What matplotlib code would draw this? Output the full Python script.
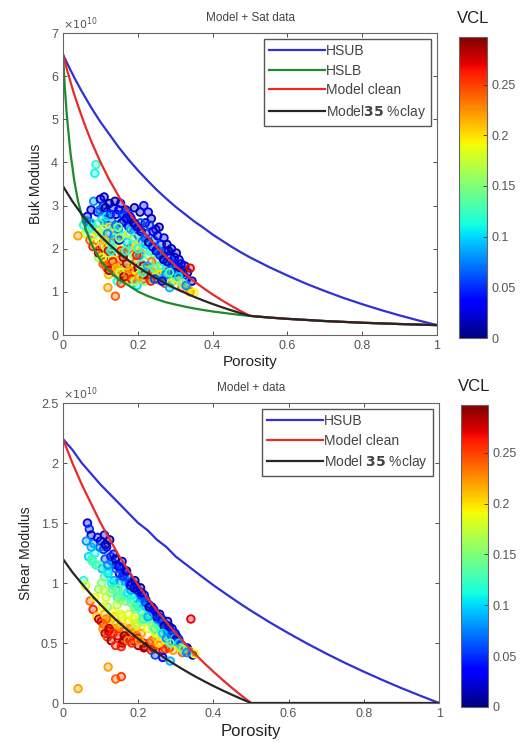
import matplotlib
matplotlib.use('Agg')
import matplotlib.pyplot as plt
from matplotlib import cm, colors as mcolors
from matplotlib.ticker import MultipleLocator

plt.rcParams['font.family'] = ['Liberation Sans', 'DejaVu Sans']

# model curves (values in units of 1e10 Pa)
phi_curve = [0, 0.005, 0.01, 0.02, 0.025, 0.03, 0.04, 0.05, 0.06, 0.075, 0.08, 0.1, 0.12, 0.125,
             0.15, 0.175, 0.2, 0.225, 0.25, 0.275, 0.3, 0.325, 0.35, 0.375, 0.4, 0.425,
             0.45, 0.475, 0.5, 0.55, 0.6, 0.65, 0.7, 0.75, 0.8, 0.85, 0.9, 0.95, 1.0]

k_hsub = [6.50, 6.41, 6.32, 6.14, 6.06, 5.97, 5.81, 5.65, 5.50, 5.28, 5.21, 4.94, 4.70, 4.64,
          4.34, 4.07, 3.82, 3.59, 3.37, 3.17, 2.98, 2.81, 2.64, 2.49, 2.33, 2.19,
          2.05, 1.92, 1.80, 1.58, 1.38, 1.19, 1.02, 0.86, 0.715, 0.58, 0.455, 0.339, 0.23]
k_hslb = [6.50, 5.72, 5.11, 4.21, 3.90, 3.58, 3.11, 2.78, 2.47, 2.13, 2.04, 1.74, 1.52, 1.48,
          1.28, 1.15, 1.01, 0.91, 0.83, 0.76, 0.708, 0.66, 0.617, 0.58, 0.546, 0.518,
          0.49, 0.465, 0.444, 0.406, 0.375, 0.35, 0.324, 0.305, 0.285, 0.27, 0.255, 0.242, 0.23]
k_clean = [6.50, 6.33, 6.17, 5.87, 5.72, 5.58, 5.32, 5.07, 4.83, 4.50, 4.40, 4.01, 3.66, 3.58,
           3.20, 2.86, 2.56, 2.29, 2.04, 1.82, 1.61, 1.42, 1.25, 1.09, 0.941, 0.804,
           0.676, 0.556, 0.444, 0.406, 0.375, 0.35, 0.324, 0.305, 0.285, 0.27, 0.255, 0.242, 0.23]
k_clay = [3.45, 3.38, 3.31, 3.17, 3.10, 3.04, 2.92, 2.80, 2.69, 2.54, 2.49, 2.30, 2.13, 2.09,
          1.90, 1.73, 1.58, 1.44, 1.31, 1.19, 1.08, 0.982, 0.888, 0.801, 0.720, 0.644,
          0.573, 0.507, 0.444, 0.406, 0.375, 0.35, 0.324, 0.305, 0.285, 0.27, 0.255, 0.242, 0.23]

phi_shear = [0, 0.025, 0.05, 0.075, 0.1, 0.125, 0.15, 0.175, 0.2, 0.225, 0.25, 0.275, 0.3,
             0.325, 0.35, 0.375, 0.4, 0.425, 0.45, 0.475, 0.5, 0.55, 0.6, 0.65, 0.7,
             0.75, 0.8, 0.85, 0.9, 0.95, 1.0]
mu_hsub = [2.20, 2.11, 2.00, 1.91, 1.82, 1.74, 1.66, 1.58, 1.50, 1.44, 1.36, 1.30, 1.22,
           1.16, 1.10, 1.04, 0.982, 0.927, 0.873, 0.82, 0.769, 0.672, 0.581, 0.494, 0.412,
           0.334, 0.261, 0.191, 0.124, 0.061, 0.0]
mu_clean = [2.20, 2.00, 1.82, 1.66, 1.50, 1.36, 1.22, 1.10, 0.982, 0.873, 0.769, 0.672, 0.581,
            0.494, 0.412, 0.334, 0.261, 0.191, 0.124, 0.061, 0.0, 0, 0, 0, 0,
            0, 0, 0, 0, 0, 0]
mu_clay = [1.20, 1.09, 0.994, 0.903, 0.819, 0.740, 0.667, 0.599, 0.535, 0.475, 0.419, 0.366, 0.316,
           0.269, 0.224, 0.182, 0.142, 0.104, 0.068, 0.033, 0.0, 0, 0, 0, 0,
           0, 0, 0, 0, 0, 0]

# well-log samples: porosity, clay volume, bulk and shear modulus (1e10 Pa)
por = [0.055, 0.060, 0.065, 0.068, 0.070, 0.072, 0.075, 0.078, 0.080, 0.082,
       0.085, 0.088, 0.090, 0.092, 0.095, 0.100, 0.102, 0.104, 0.106, 0.108,
       0.110, 0.112, 0.114, 0.116, 0.118, 0.120, 0.122, 0.124, 0.126, 0.128,
       0.130, 0.132, 0.134, 0.136, 0.138, 0.140, 0.112, 0.118, 0.125, 0.135,
       0.142, 0.144, 0.146, 0.148, 0.150, 0.152, 0.154, 0.156, 0.158, 0.160,
       0.162, 0.164, 0.166, 0.168, 0.170, 0.172, 0.174, 0.176, 0.178, 0.180,
       0.145, 0.155, 0.165, 0.175, 0.150, 0.182, 0.184, 0.186, 0.188, 0.190,
       0.192, 0.194, 0.196, 0.198, 0.200, 0.202, 0.204, 0.206, 0.208, 0.210,
       0.212, 0.214, 0.216, 0.218, 0.220, 0.185, 0.195, 0.205, 0.215, 0.190,
       0.222, 0.225, 0.228, 0.230, 0.233, 0.236, 0.238, 0.240, 0.243, 0.246,
       0.248, 0.250, 0.253, 0.256, 0.258, 0.260, 0.263, 0.266, 0.268, 0.270,
       0.273, 0.276, 0.278, 0.280, 0.283, 0.286, 0.288, 0.290, 0.293, 0.296,
       0.298, 0.300, 0.303, 0.306, 0.308, 0.310, 0.313, 0.316, 0.318, 0.320,
       0.323, 0.326, 0.330, 0.333, 0.336, 0.340, 0.345, 0.350, 0.040, 0.140,
       0.155, 0.340, 0.120, 0.110, 0.098, 0.103, 0.107, 0.113, 0.117, 0.121,
       0.127, 0.131, 0.137, 0.141, 0.147, 0.151, 0.157, 0.161, 0.167, 0.171,
       0.177, 0.181, 0.187, 0.191, 0.197, 0.201, 0.207, 0.211, 0.217, 0.221,
       0.227, 0.231, 0.237, 0.241, 0.247, 0.251, 0.257, 0.262, 0.267, 0.272,
       0.277, 0.282, 0.287, 0.292, 0.297, 0.302, 0.312, 0.085, 0.095, 0.075,
       0.105, 0.115, 0.123, 0.133, 0.143, 0.153, 0.163, 0.173, 0.183, 0.193,
       0.203, 0.213, 0.139, 0.149, 0.159, 0.169, 0.179, 0.189, 0.199, 0.209,
       0.219, 0.229, 0.239, 0.249, 0.259, 0.269, 0.279, 0.289, 0.299, 0.309,
       0.319, 0.329, 0.096, 0.109, 0.119, 0.129, 0.111, 0.147, 0.226, 0.244,
       0.255, 0.265, 0.275, 0.285, 0.235, 0.245, 0.265, 0.285, 0.062, 0.077]
vcl = [0.12, 0.18, 0.03, 0.10, 0.05, 0.24, 0.02, 0.14, 0.26, 0.08,
       0.11, 0.12, 0.20, 0.04, 0.16, 0.02, 0.27, 0.09, 0.22, 0.05,
       0.13, 0.28, 0.18, 0.03, 0.25, 0.10, 0.21, 0.01, 0.15, 0.29,
       0.07, 0.19, 0.04, 0.23, 0.12, 0.26, 0.06, 0.16, 0.20, 0.09,
       0.02, 0.17, 0.27, 0.08, 0.13, 0.22, 0.03, 0.19, 0.29, 0.11,
       0.06, 0.24, 0.15, 0.01, 0.28, 0.10, 0.20, 0.05, 0.25, 0.14,
       0.12, 0.26, 0.09, 0.18, 0.04, 0.02, 0.21, 0.12, 0.27, 0.07,
       0.16, 0.03, 0.24, 0.10, 0.29, 0.05, 0.18, 0.01, 0.22, 0.13,
       0.08, 0.26, 0.04, 0.15, 0.02, 0.11, 0.20, 0.09, 0.28, 0.14,
       0.06, 0.19, 0.03, 0.25, 0.11, 0.01, 0.16, 0.28, 0.07, 0.21,
       0.04, 0.13, 0.02, 0.24, 0.09, 0.17, 0.05, 0.27, 0.12, 0.03,
       0.20, 0.06, 0.01, 0.15, 0.26, 0.04, 0.10, 0.02, 0.22, 0.08,
       0.03, 0.13, 0.01, 0.18, 0.05, 0.02, 0.09, 0.03, 0.24, 0.01,
       0.06, 0.02, 0.04, 0.01, 0.21, 0.23, 0.02, 0.19, 0.22, 0.24,
       0.25, 0.27, 0.22, 0.02, 0.07, 0.15, 0.24, 0.01, 0.11, 0.27,
       0.05, 0.14, 0.20, 0.07, 0.23, 0.16, 0.02, 0.28, 0.12, 0.06,
       0.22, 0.09, 0.19, 0.01, 0.26, 0.12, 0.06, 0.17, 0.29, 0.10,
       0.14, 0.05, 0.23, 0.03, 0.18, 0.08, 0.01, 0.14, 0.07, 0.25,
       0.11, 0.02, 0.17, 0.05, 0.12, 0.04, 0.20, 0.19, 0.28, 0.09,
       0.19, 0.24, 0.28, 0.26, 0.21, 0.18, 0.29, 0.23, 0.26, 0.17,
       0.22, 0.12, 0.01, 0.03, 0.05, 0.02, 0.04, 0.01, 0.03, 0.02,
       0.06, 0.01, 0.04, 0.02, 0.05, 0.01, 0.03, 0.06, 0.02, 0.10,
       0.15, 0.08, 0.13, 0.17, 0.08, 0.11, 0.21, 0.14, 0.09, 0.13,
       0.20, 0.10, 0.08, 0.13, 0.26, 0.06, 0.04, 0.09, 0.08, 0.12]
k_data = [2.55, 2.35, 2.75, 2.45, 2.62, 2.20, 2.90, 2.30, 2.05, 3.10,
          3.75, 3.95, 2.40, 2.85, 1.80, 3.15, 2.10, 2.70, 1.95, 3.00,
          2.25, 1.70, 2.05, 2.85, 1.55, 2.55, 1.40, 3.05, 2.15, 1.85,
          2.65, 1.75, 2.95, 2.30, 2.40, 1.45, 2.60, 1.90, 2.50, 2.20,
          2.80, 2.00, 1.60, 2.45, 1.35, 1.75, 3.05, 2.10, 1.42, 2.30,
          2.65, 1.90, 1.55, 2.90, 1.65, 2.15, 1.30, 2.50, 2.00, 1.80,
          1.25, 1.95, 2.75, 2.35, 2.20, 2.70, 1.60, 1.20, 1.45, 2.40,
          1.85, 2.55, 1.70, 1.15, 1.55, 2.30, 1.40, 2.85, 1.90, 1.65,
          2.15, 1.30, 3.00, 1.25, 2.60, 2.10, 2.05, 1.85, 1.60, 2.25,
          2.35, 1.50, 2.85, 1.35, 1.95, 2.70, 1.30, 1.45, 2.20, 1.60,
          2.45, 1.75, 2.30, 1.28, 1.90, 1.55, 2.10, 1.38, 1.70, 2.25,
          1.45, 1.95, 2.10, 1.30, 1.50, 1.85, 1.60, 2.00, 1.25, 1.70,
          1.80, 1.35, 1.90, 1.40, 1.55, 1.75, 1.45, 1.65, 1.10, 1.50,
          1.38, 1.60, 1.30, 1.45, 1.05, 1.00, 1.25, 0.98, 2.30, 0.90,
          1.20, 1.55, 1.10, 3.20, 2.90, 2.35, 1.65, 2.95, 2.75, 1.95,
          2.80, 2.05, 1.60, 2.55, 1.50, 2.25, 2.60, 1.80, 1.95, 2.85,
          1.50, 2.45, 1.35, 2.95, 1.85, 2.00, 2.60, 1.50, 1.40, 2.10,
          1.85, 2.55, 1.70, 2.40, 1.35, 2.00, 2.50, 1.45, 1.80, 1.20,
          1.55, 1.95, 1.20, 1.65, 1.50, 1.60, 1.25, 2.15, 1.90, 2.60,
          1.80, 1.60, 1.50, 1.70, 1.55, 1.45, 1.35, 1.40, 1.30, 1.25,
          1.35, 1.45, 3.10, 2.90, 2.80, 2.70, 2.75, 2.60, 2.50, 2.40,
          2.25, 2.15, 2.05, 1.95, 1.85, 1.75, 1.70, 1.50, 1.45, 1.35,
          1.20, 1.15, 2.60, 2.45, 2.35, 1.95, 2.20, 2.50, 1.60, 1.55,
          1.40, 1.30, 1.40, 1.45, 1.25, 1.30, 1.25, 1.10, 2.65, 2.50]
mu_data = [1.02, 0.98, 1.50, 1.22, 1.45, 0.85, 1.40, 1.18, 0.78, 1.33,
           1.25, 1.15, 0.72, 1.38, 0.95, 1.35, 0.68, 1.12, 0.62, 1.28,
           1.05, 0.58, 0.88, 1.30, 0.55, 1.08, 0.66, 1.36, 0.92, 0.52,
           1.18, 0.76, 1.24, 0.62, 0.98, 0.48, 1.20, 0.80, 0.70, 1.02,
           1.15, 0.82, 0.56, 1.00, 0.90, 0.64, 1.12, 0.72, 0.50, 0.95,
           1.05, 0.60, 0.85, 1.10, 0.54, 0.92, 0.68, 1.00, 0.58, 0.84,
           0.88, 0.47, 1.02, 0.74, 1.08, 1.00, 0.62, 0.86, 0.52, 0.95,
           0.78, 0.98, 0.56, 0.82, 0.48, 0.92, 0.70, 0.96, 0.58, 0.76,
           0.88, 0.50, 0.90, 0.72, 0.86, 0.90, 0.64, 0.84, 0.46, 0.80,
           0.84, 0.62, 0.82, 0.50, 0.72, 0.80, 0.64, 0.46, 0.76, 0.55,
           0.74, 0.66, 0.72, 0.48, 0.68, 0.58, 0.70, 0.44, 0.62, 0.66,
           0.52, 0.64, 0.68, 0.56, 0.46, 0.60, 0.58, 0.62, 0.44, 0.56,
           0.58, 0.52, 0.55, 0.48, 0.53, 0.50, 0.47, 0.48, 0.42, 0.46,
           0.44, 0.45, 0.46, 0.44, 0.43, 0.42, 0.40, 0.41, 0.12, 0.20,
           0.22, 0.70, 0.30, 1.40, 1.30, 1.00, 0.66, 1.32, 1.10, 0.60,
           1.22, 0.95, 0.72, 1.12, 0.60, 0.86, 1.18, 0.52, 0.90, 1.06,
           0.62, 0.94, 0.70, 1.02, 0.54, 0.80, 0.90, 0.68, 0.47, 0.80,
           0.70, 0.80, 0.52, 0.78, 0.58, 0.70, 0.74, 0.60, 0.66, 0.45,
           0.60, 0.64, 0.50, 0.58, 0.54, 0.54, 0.46, 0.88, 0.70, 1.30,
           0.80, 0.70, 0.62, 0.58, 0.66, 0.74, 0.56, 0.52, 0.50, 0.66,
           0.52, 0.70, 1.20, 1.14, 1.06, 1.10, 0.98, 0.96, 0.94, 0.92,
           0.84, 0.80, 0.76, 0.72, 0.70, 0.64, 0.60, 0.56, 0.52, 0.50,
           0.45, 0.42, 1.15, 0.94, 1.15, 1.00, 0.74, 0.95, 0.72, 0.62,
           0.50, 0.58, 0.54, 0.50, 0.44, 0.40, 0.38, 0.35, 1.35, 1.20]

vcl_ticks = [0, 0.05, 0.1, 0.15, 0.2, 0.25]
vcl_max = 0.297

text_col = '#333333'
cmap = cm.jet
norm = mcolors.Normalize(vmin=0, vmax=vcl_max)
pt_edge = cmap(norm(vcl))
pt_face = cmap(norm(vcl))
pt_face[:, 3] = 0.35

fig = plt.figure(figsize=(5.26, 7.46), dpi=100)
ax1 = fig.add_axes([0.1198, 0.5509, 0.711, 0.4048])
cax1 = fig.add_axes([0.8726, 0.5469, 0.0532, 0.4035])
ax2 = fig.add_axes([0.1198, 0.0576, 0.715, 0.4021])
cax2 = fig.add_axes([0.8764, 0.0523, 0.0513, 0.4048])


def style_axes(ax, ymax, ystep):
    ax.set_xlim(0, 1)
    ax.set_ylim(0, ymax)
    ax.xaxis.set_major_locator(MultipleLocator(0.2))
    ax.yaxis.set_major_locator(MultipleLocator(ystep))
    ax.tick_params(direction='in', top=True, right=True, length=3, width=0.6,
                   labelsize=9, colors=text_col, labelcolor='#555555')
    for s in ax.spines.values():
        s.set_color('#666666')
        s.set_linewidth(0.8)
    ax.xaxis.set_major_formatter(plt.FuncFormatter(lambda v, p: '%g' % v))
    ax.yaxis.set_major_formatter(plt.FuncFormatter(lambda v, p: '%g' % v))


def style_cbar(cax):
    cb = fig.colorbar(cm.ScalarMappable(norm=norm, cmap=cmap), cax=cax, ticks=vcl_ticks)
    cb.ax.set_yticklabels(['%g' % t for t in vcl_ticks])
    cb.ax.tick_params(direction='in', length=3, width=0.6, labelsize=9,
                      colors=text_col, labelcolor='#555555')
    cb.outline.set_edgecolor('#666666')
    cb.outline.set_linewidth(0.8)
    cax.set_title('VCL', fontsize=12, color='#222222', pad=10)


def add_legend(ax):
    ax.legend(loc='upper right', fontsize=10, handlelength=4.0, handletextpad=0.1,
              labelspacing=0.4, borderpad=0.35, fancybox=False, edgecolor='#555555',
              framealpha=1, borderaxespad=0.45, labelcolor='#444444')


# bulk modulus panel
ax1.scatter(por, k_data, s=30, facecolors=pt_face, edgecolors=pt_edge, linewidths=1.3)
ax1.plot(phi_curve, k_hsub, color='#3030d8', lw=1.6, label='HSUB')
ax1.plot(phi_curve, k_hslb, color='#1f8a2a', lw=1.6, label='HSLB')
ax1.plot(phi_curve, k_clean, color='#e82a2a', lw=1.6, label='Model clean')
ax1.plot(phi_curve, k_clay, color='#262626', lw=1.6, label=r'Model$\mathbf{35}$ %clay')
style_axes(ax1, 7, 1)
ax1.text(0, 1.005, r'$\times 10^{10}$', transform=ax1.transAxes, fontsize=8,
         color='#555555', va='bottom', ha='left')
ax1.set_title('Model + Sat data', fontsize=8.5, color='#444444', pad=9)
ax1.set_xlabel('Porosity', fontsize=11, color='#222222', labelpad=2)
ax1.set_ylabel('Buk Modulus', fontsize=10, color='#222222', labelpad=6)
add_legend(ax1)
style_cbar(cax1)

# shear modulus panel
ax2.scatter(por, mu_data, s=30, facecolors=pt_face, edgecolors=pt_edge, linewidths=1.3)
ax2.plot(phi_shear, mu_hsub, color='#3030d8', lw=1.6, label='HSUB')
ax2.plot(phi_shear, mu_clean, color='#e82a2a', lw=1.6, label='Model clean')
ax2.plot(phi_shear, mu_clay, color='#262626', lw=1.6, label=r'Model $\mathbf{35}$ %clay')
style_axes(ax2, 2.5, 0.5)
ax2.text(0, 1.005, r'$\times 10^{10}$', transform=ax2.transAxes, fontsize=8,
         color='#555555', va='bottom', ha='left')
ax2.set_title('Model + data', fontsize=8.5, color='#444444', pad=9)
ax2.set_xlabel('Porosity', fontsize=12, color='#222222', labelpad=3)
ax2.set_ylabel('Shear Modulus', fontsize=10, color='#222222', labelpad=6)
add_legend(ax2)
style_cbar(cax2)

fig.savefig('out.png', dpi=100)
